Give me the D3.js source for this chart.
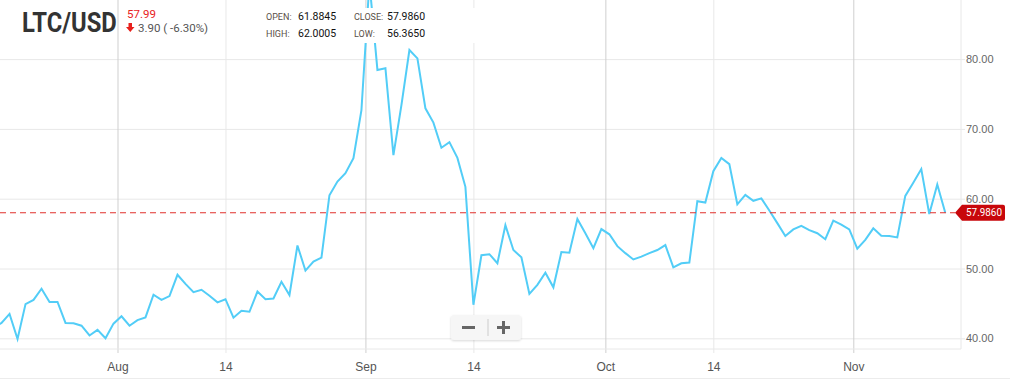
<!DOCTYPE html>
<html>
<head>
<meta charset="utf-8">
<script src="https://cdn.jsdelivr.net/npm/d3@7"></script>
<style>
  body { margin: 0; background: #fff; }
  svg { display: block; font-family: Roboto, "Noto Sans", sans-serif; }
</style>
</head>
<body>
<svg id="chart" width="1010" height="380"></svg>
<script>
// daily closes, LTC/USD (Jul 16 - Nov 12)
const julClose = [41.5, 42.2, 43.5, 39.9, 44.9, 45.5, 47.1, 45.2, 45.2, 42.2, 42.15, 41.8, 40.4, 41.2, 40.0, 42.1];
const augClose = [43.15, 41.8, 42.6, 43.0, 46.25, 45.5, 46.05, 49.1, 47.8, 46.6, 46.95, 46.1, 45.15, 45.6, 42.95, 43.95,
  43.8, 46.7, 45.6, 45.7, 48.1, 46.2, 53.3, 49.7, 51.0, 51.55, 60.5, 62.45, 63.65, 65.8, 72.7];
const sepClose = [91.0, 78.45, 78.7, 66.25, 73.4, 81.3, 80.1, 72.95, 70.9, 67.3, 68.1, 65.85, 61.7, 44.8, 51.9,
  52.05, 50.75, 56.2, 52.65, 51.6, 46.35, 47.65, 49.4, 47.3, 52.35, 52.25, 57.1, 55.05, 52.9, 55.65];
const octClose = [54.9, 53.2, 52.2, 51.3, 51.7, 52.2, 52.65, 53.35, 50.15, 50.75, 50.85, 59.65, 59.45, 63.95, 65.85,
  64.95, 59.2, 60.55, 59.7, 60.05, 58.3, 56.5, 54.65, 55.6, 56.1, 55.5, 55.05, 54.2, 56.85, 56.3, 55.6];
const novClose = [52.85, 54.1, 55.75, 54.7, 54.65, 54.45, 60.4, 62.3, 64.25, 57.8, 62.05, 57.99];

const yTicks = [40, 50, 60, 70, 80];
const monthTicks = ["2017-08-01", "2017-09-01", "2017-10-01", "2017-11-01"];
const midTicks = ["2017-08-14T12:00Z", "2017-09-14T12:00Z", "2017-10-14T12:00Z"];

const ohlc = [["OPEN:", "61.8845"], ["CLOSE:", "57.9860"], ["HIGH:", "62.0005"], ["LOW:", "56.3650"]];
const lastPrice = "57.99", change = "3.90 ( -6.30%)", closeVal = 57.986;

const closes = [].concat(julClose, augClose, sepClose, octClose, novClose);
const first = new Date("2017-07-16T12:00Z");
const data = closes.map((v, i) => ({ date: d3.utcDay.offset(first, i), value: v }));

const W = 1010, H = 380, plotR = 961, plotB = 349;
const svg = d3.select("#chart");

const x = d3.scaleUtc()
  .domain([new Date("2017-08-01T00:00Z"), new Date("2017-11-01T00:00Z")])
  .range([117.5, 853.3]);
const y = d3.scaleLinear().domain([40, 80]).range([338.3, 59.1]);

// horizontal grid + right axis
const yAxis = d3.axisRight(y).tickValues(yTicks).tickFormat(d3.format(".2f"))
  .tickSize(plotR + 4).tickPadding(2);
const gy = svg.append("g").call(yAxis);
gy.select(".domain").remove();
gy.selectAll("line").attr("stroke", "#e8e8e8");
gy.selectAll("text").attr("fill", "#666").attr("font-size", 11).attr("x", 966).attr("text-anchor", "start");

// vertical grid
const gMid = svg.append("g").call(
  d3.axisBottom(x).tickValues(midTicks.map(d => new Date(d))).tickFormat(() => "14")
    .tickSize(plotB + 4).tickPadding(9));
const gMon = svg.append("g").call(
  d3.axisBottom(x).tickValues(monthTicks.map(d => new Date(d))).tickFormat(d3.utcFormat("%b"))
    .tickSize(plotB + 4).tickPadding(9));
gMid.selectAll("line").attr("stroke", "#e8e8e8");
gMon.selectAll("line").attr("stroke", "#cfcfcf");
[gMid, gMon].forEach(g => {
  g.select(".domain").remove();
  g.selectAll("text").attr("fill", "#555").attr("font-size", 12);
});

// frame lines
svg.append("line").attr("x1", 0).attr("x2", plotR).attr("y1", plotB).attr("y2", plotB).attr("stroke", "#e8e8e8");
svg.append("line").attr("x1", plotR).attr("x2", plotR).attr("y1", 0).attr("y2", plotB).attr("stroke", "#e8e8e8");
svg.append("line").attr("x1", 0).attr("x2", W).attr("y1", H - 1.5).attr("y2", H - 1.5).attr("stroke", "#ececec");

// price line
svg.append("clipPath").attr("id", "clip").append("rect").attr("width", plotR).attr("height", plotB);
const line = d3.line().x(d => x(d.date)).y(d => y(d.value));
svg.append("path").datum(data)
  .attr("clip-path", "url(#clip)")
  .attr("fill", "none").attr("stroke", "#52cdf7").attr("stroke-width", 2)
  .attr("d", line);

// close dashed line + tag
const cy = y(closeVal);
svg.append("line").attr("x1", 0).attr("x2", 955).attr("y1", cy).attr("y2", cy)
  .attr("stroke", "#e0302c").attr("stroke-width", 1).attr("stroke-dasharray", "6,4");
svg.append("path")
  .attr("d", `M955,${cy} L962,${cy - 8} H1003 Q1005,${cy - 8} 1005,${cy - 6} V${cy + 6} Q1005,${cy + 8} 1003,${cy + 8} H962 Z`)
  .attr("fill", "#c8070b");
svg.append("text").attr("x", 966).attr("y", cy).attr("dy", "0.35em")
  .attr("fill", "#fff").attr("font-size", 10.5)
  .attr("textLength", 36).attr("lengthAdjust", "spacingAndGlyphs")
  .text(closeVal.toFixed(4));

// OHLC box
svg.append("rect").attr("x", 252).attr("y", 8).attr("width", 238).attr("height", 35).attr("fill", "#fff");
const og = svg.append("g");
ohlc.forEach((d, i) => {
  const col = i % 2, row = Math.floor(i / 2);
  const lx = col ? 354 : 266, vx = col ? 387 : 298, ty = row ? 37 : 20;
  og.append("text").attr("x", lx).attr("y", ty).attr("font-size", 9).attr("fill", "#5a5048").text(d[0]);
  og.append("text").attr("x", vx).attr("y", ty).attr("font-size", 10.5).attr("fill", "#111").text(d[1]);
});

// header
svg.append("text").attr("transform", "translate(22,31.7) scale(0.85,1)")
  .attr("font-size", 28).attr("font-weight", 700).attr("fill", "#333").text("LTC/USD");
svg.append("text").attr("x", 127).attr("y", 18).attr("font-size", 11.5).attr("fill", "#e8201c").text(lastPrice);
svg.append("path").attr("d", "M128.5,23 h3.5 v4 h2.5 l-4.25,5 l-4.25,-5 h2.5 z").attr("fill", "#e8201c");
svg.append("text").attr("x", 138).attr("y", 32).attr("font-size", 11.5).attr("fill", "#555").text(change);

// zoom buttons
const defs = svg.append("defs");
const f = defs.append("filter").attr("id", "sh").attr("x", "-20%").attr("y", "-30%").attr("width", "140%").attr("height", "170%");
f.append("feDropShadow").attr("dx", 0).attr("dy", 1).attr("stdDeviation", 1).attr("flood-color", "#000").attr("flood-opacity", 0.15);
const zb = svg.append("g");
zb.append("rect").attr("x", 451).attr("y", 315).attr("width", 70).attr("height", 25).attr("rx", 3)
  .attr("fill", "#f6f6f6").attr("filter", "url(#sh)");
zb.append("rect").attr("x", 462).attr("y", 326).attr("width", 13).attr("height", 3).attr("fill", "#666");
zb.append("line").attr("x1", 488).attr("x2", 488).attr("y1", 319).attr("y2", 336).attr("stroke", "#ccc");
zb.append("rect").attr("x", 497).attr("y", 326).attr("width", 13).attr("height", 3).attr("fill", "#666");
zb.append("rect").attr("x", 502).attr("y", 321).attr("width", 3).attr("height", 13).attr("fill", "#666");
</script>
</body>
</html>
